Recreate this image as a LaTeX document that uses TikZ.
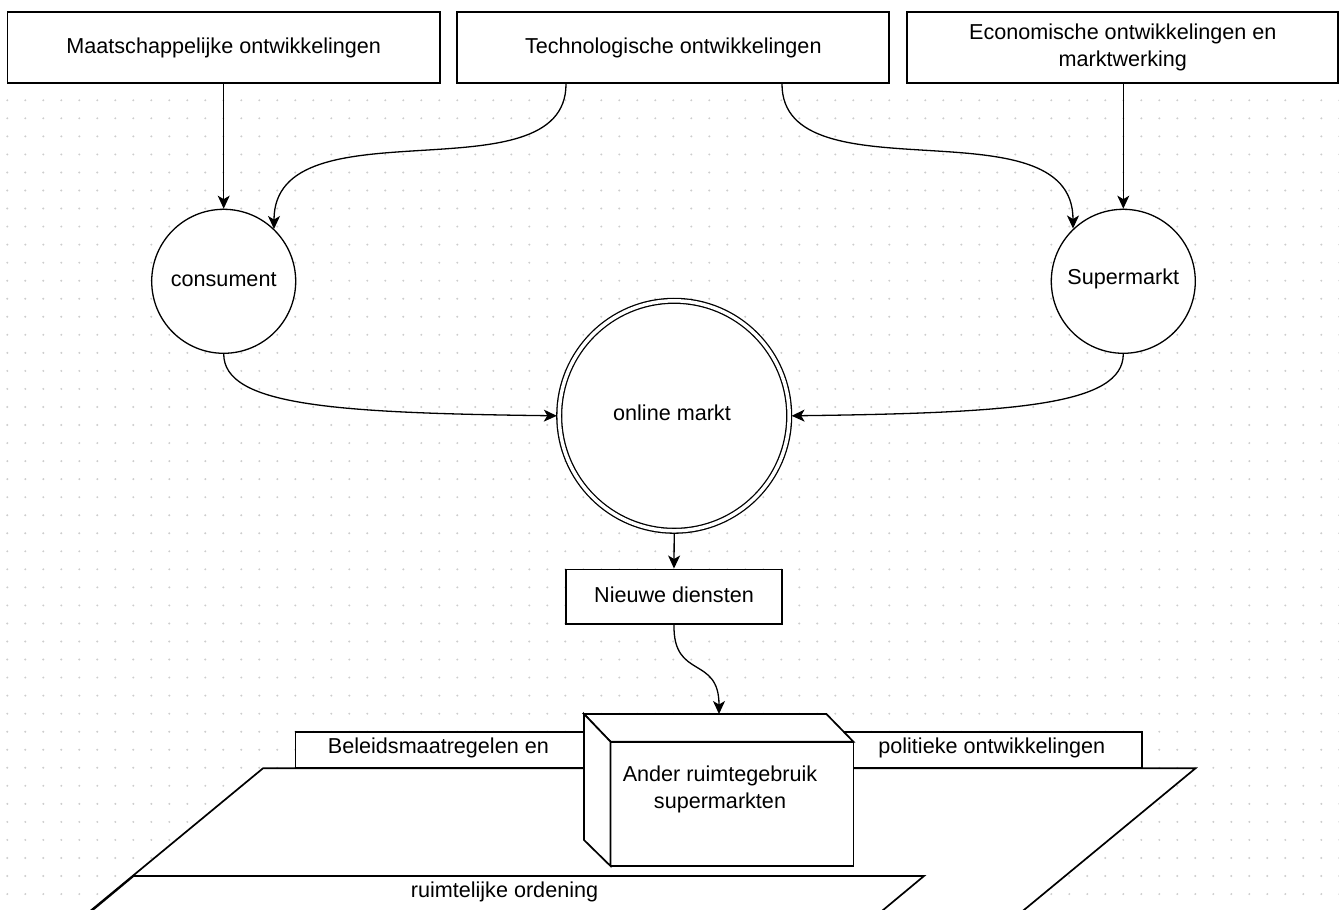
\documentclass[tikz,border=0pt]{standalone}
\usepackage{fontspec}
\setmainfont{Liberation Sans}
\usetikzlibrary{arrows.meta}
\definecolor{dotc}{RGB}{205,205,205}
\begin{document}
\begin{tikzpicture}[x=1pt,y=-1pt,
  every node/.style={font=\fontsize{21.6}{27}\selectfont, inner sep=0pt, text=black},
  topbox/.style={draw, line width=1.7pt, fill=white, minimum height=71pt, align=center},
  circ/.style={circle, draw, line width=1.3pt, fill=white, minimum size=144pt},
  dcirc/.style={circle, draw, line width=1.3pt, double, double distance=3.5pt, fill=white, minimum size=230pt, outer sep=2.4pt},
  conn/.style={line width=1.3pt, -{Stealth[length=13pt,width=12pt,inset=3.5pt]}},
  plane/.style={draw, line width=1.7pt, fill=white, line join=miter},
  lbl/.style={align=center},
]
\useasboundingbox (0,0) rectangle (1339,910);
\fill[white] (0,0) rectangle (1339,910);
% dot grid
\foreach \i in {0,...,74}{
  \foreach \j in {0,...,45}{
    \fill[dotc] (7.3+18*\i, 100.3+18.04*\j) circle (1.1pt);
  }
}
% top boxes
\node[topbox, minimum width=432.7pt] (maat) at (223.7,47.8) {Maatschappelijke ontwikkelingen};
\node[topbox, minimum width=432pt] (tech) at (673.3,47.8) {Technologische ontwikkelingen};
\node[topbox, minimum width=431pt] (econ) at (1122.8,47.8) {Economische ontwikkelingen en\\marktwerking};
% circles
\node[circ] (cons) at (223.7,281.3) {};
\node[lbl] (conslbl) at (223.7,279.3) {consument};
\node[circ] (super) at (1123.3,281.3) {};
\node[lbl] (superlbl) at (1123.3,279.3) {Supermarkt};
\node[dcirc] (online) at (674.2,415.8) {};
\node[lbl] (onlinelbl) at (672,413) {online markt};
\node[draw, line width=1.7pt, fill=white, minimum width=216pt, minimum height=54.7pt] (nieuw) at (674,596.7) {};
\node[lbl] (nieuwlbl) at (674,594.5) {Nieuwe diensten};
% connectors
\draw[conn] (maat.south) -- (cons.north);
\draw[conn] (econ.south -| super.north) -- (super.north);
\coordinate (tconsA) at (566,84);
\coordinate (tconsB) at (274,229);
\coordinate (tsupA) at (782,84);
\coordinate (tsupB) at (1073,228.5);
\draw[conn] (tconsA) .. controls (566,200) and (274,100) .. (tconsB);
\draw[conn] (tsupA) .. controls (782,200) and (1073,100) .. (tsupB);
\draw[conn] (cons.south) .. controls (224,405) and (330,413) .. (online.west);
\draw[conn] (super.south) .. controls (1123,405) and (1017,413) .. (online.east);
\draw[conn] (online.south) -- (nieuw.north);
% bottom planes
\begin{scope}
\clip (0,0) rectangle (1339,910);
\node[draw, line width=1.7pt, fill=white, minimum width=846.6pt, minimum height=36pt] (beleid) at (718.7,750.3) {};
\node[lbl] (beleidlbl) at (438.4,747.5) {Beleidsmaatregelen en};
\node[lbl] (politlbl) at (991.8,747.5) {politieke ontwikkelingen};
\draw[plane] (263,768.3) -- (1195.5,768.3) -- (975.5,950) -- (43,950) -- cycle;
\draw[plane] (133.6,876) -- (924,876) -- (835,950) -- (44.8,950) -- cycle;
\node[lbl] (ruimlbl) at (504.5,891.7) {ruimtelijke ordening};
\end{scope}
% cube
\node[minimum width=269.4pt, minimum height=152pt, fill=none] (cube) at (718.7,790) {};
\draw[plane] (610.5,741.7) rectangle (853.4,866);
\draw[plane] (584,714) -- (826.4,714) -- (853.4,741.7) -- (610.5,741.7) -- cycle;
\draw[plane] (584,714) -- (610.5,741.7) -- (610.5,866) -- (584,840) -- cycle;
\node[lbl] (cubelbl) at (720,789) {Ander ruimtegebruik\\supermarkten};
\coordinate (cubetop) at (719,714);
\draw[conn] (nieuw.south) .. controls (673,680) and (719,655) .. (cubetop);
\end{tikzpicture}
\end{document}
